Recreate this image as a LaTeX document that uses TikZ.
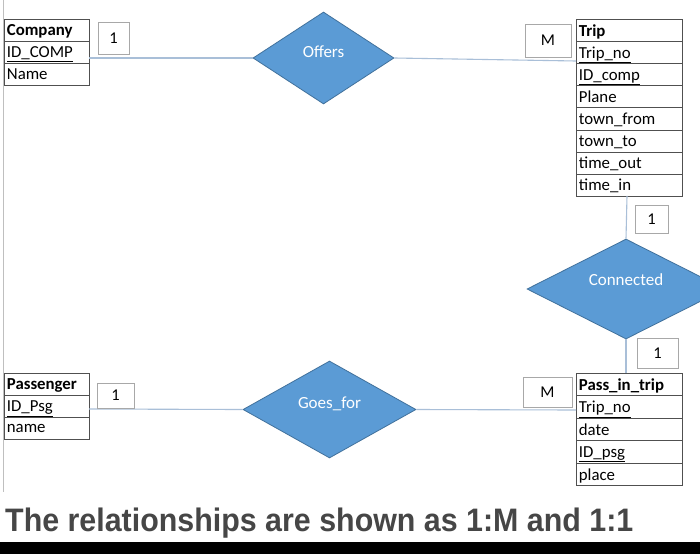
\documentclass[tikz,border=0pt]{standalone}
\usepackage{fontspec}
\setmainfont{Carlito}
\newfontfamily\capfont{Liberation Sans}
\usetikzlibrary{shapes.geometric}
\definecolor{tabc}{HTML}{505050}
\definecolor{dfill}{HTML}{5B9BD5}
\definecolor{dline}{HTML}{41719C}
\definecolor{conc}{HTML}{A9BFD8}
\definecolor{lblc}{HTML}{A8A8A8}
\definecolor{capc}{HTML}{464646}
\begin{document}
\begin{tikzpicture}[x=1pt,y=-1pt,
  tabrow/.style={draw=tabc, line width=0.8pt, anchor=north west, inner xsep=2.5pt, inner ysep=0pt,
     align=left, font=\fontsize{16.8}{17}\selectfont, text depth=0pt},
  narrow/.style={tabrow, minimum width=85pt, text width=80pt, minimum height=22pt},
  wide/.style={tabrow, minimum width=106pt, text width=101pt, minimum height=#1},
  rel/.style={shape=diamond, draw=dline, line width=0.8pt, fill=dfill, inner sep=0pt},
  rtext/.style={text=white, font=\fontsize{17}{18}\selectfont},
  card/.style={draw=lblc, line width=0.6pt, fill=white, inner sep=0pt, font=\fontsize{16.5}{17}\selectfont},
  conn/.style={draw=conc, line width=1.1pt}]
\clip (0,0) rectangle (700,554);
\fill[white] (0,0) rectangle (700,554);
\draw[black!25, line width=0.6pt] (3,0) -- (3,492);

% Company
\node[narrow] (comp0) at (4,19) {\textbf{Company}};
\node[narrow] (comp1) at (4,41) {\underline{ID\_COMP}};
\node[narrow] (comp2) at (4,63) {Name};

% Trip
\node[wide=22.1pt] (trip0) at (576,19) {\textbf{Trip}};
\node[wide=22.1pt] (trip1) at (576,41.1) {\underline{Trip\_no}};
\node[wide=22.1pt] (trip2) at (576,63.2) {\underline{ID\_comp}};
\node[wide=22.1pt] (trip3) at (576,85.3) {Plane};
\node[wide=22.1pt] (trip4) at (576,107.4) {town\_from};
\node[wide=22.1pt] (trip5) at (576,129.5) {town\_to};
\node[wide=22.1pt] (trip6) at (576,151.6) {time\_out};
\node[wide=22.1pt] (trip7) at (576,173.7) {time\_in};

% Passenger
\node[narrow] (pass0) at (4,373) {\textbf{Passenger}};
\node[narrow] (pass1) at (4,395) {\underline{ID\_Psg}};
\node[narrow] (pass2) at (4,417) {name};

% Pass_in_trip
\node[wide=22.4pt] (pit0) at (576,373) {\textbf{Pass\_in\_trip}};
\node[wide=22.4pt] (pit1) at (576,395.4) {\underline{Trip\_no}};
\node[wide=22.4pt] (pit2) at (576,417.8) {date};
\node[wide=22.4pt] (pit3) at (576,440.2) {\underline{ID\_psg}};
\node[wide=22.4pt] (pit4) at (576,462.6) {place};

% relationships
\node[rel, minimum width=141pt, minimum height=92pt,
  label={[rtext, yshift=6pt]center:Offers}] (offers) at (323.5,58) {};
\node[rel, minimum width=198pt, minimum height=100pt,
  label={[rtext, yshift=9pt]center:Connected}] (conn) at (626,289) {};
\node[rel, minimum width=173pt, minimum height=97pt,
  label={[rtext, yshift=6pt]center:Goes\_for}] (goes) at (329.5,409.5) {};

% connector end points
\coordinate (compout) at (89,58);
\coordinate (tripin) at (576,61);
\coordinate (tripout) at (627,195.8);
\coordinate (pitin) at (626,373);
\coordinate (passout) at (89,409);
\coordinate (pitleft) at (576,410);

\draw[conn] (compout) -- (offers.west);
\draw[conn] (offers.east) -- (tripin);
\draw[conn] (tripout) -- (conn.north);
\draw[conn] (conn.south) -- (pitin);
\draw[conn] (passout) -- (goes.west);
\draw[conn] (goes.east) -- (pitleft);

% cardinalities
\node[card, minimum width=31pt, minimum height=32pt] (c1) at (113.5,38) {1};
\node[card, minimum width=46pt, minimum height=33pt] (cm1) at (548,40.5) {M};
\node[card, minimum width=33pt, minimum height=28pt] (c2) at (651.5,219) {1};
\node[card, minimum width=41pt, minimum height=30pt] (c3) at (657.5,353) {1};
\node[card, minimum width=37pt, minimum height=25pt] (c4) at (115.5,395.5) {1};
\node[card, minimum width=49pt, minimum height=30pt] (cm2) at (547.5,392) {M};

% caption
\node[anchor=base west, inner sep=0pt, text=capc, font=\capfont\bfseries\fontsize{32.5}{34}\selectfont] (cap) at (5,531) {\scalebox{0.935}[1]{The relationships are shown as 1:M and 1:1}};
\fill[black] (0,542) rectangle (700,554);
\end{tikzpicture}
\end{document}
